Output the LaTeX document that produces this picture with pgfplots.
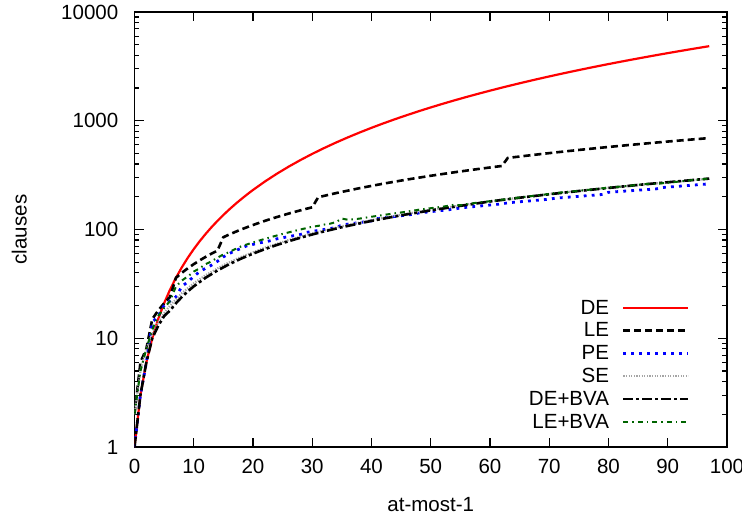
\documentclass[border=0pt]{standalone}
\usepackage{fontspec}
\setmainfont{Liberation Sans}
\usepackage{pgfplots}
\pgfplotsset{compat=1.18}

\definecolor{deRed}{RGB}{255,0,0}
\definecolor{peBlue}{RGB}{0,0,255}
\definecolor{seGray}{RGB}{165,165,165}
\definecolor{lbGreen}{RGB}{0,100,0}

\newcommand{\fnt}{\fontsize{20.6}{25}\selectfont}

\begin{document}
\begin{tikzpicture}
\begin{axis}[
  scale only axis, width=592.5bp, height=435bp,
  ymode=log, xmin=0, xmax=100, ymin=1, ymax=10000,
  xtick={0,10,...,100},
  xticklabels={0,10,20,30,40,50,60,70,80,90,100},
  ytick={1,10,100,1000,10000},
  yticklabels={1,10,100,1000,10000},
  minor ytick={2,3,4,5,6,7,8,9,20,30,40,50,60,70,80,90,200,300,400,500,600,700,800,900,2000,3000,4000,5000,6000,7000,8000,9000},
  tick align=inside, tick pos=both,
  major tick length=9.5bp, minor tick length=5bp,
  every tick/.style={black, line width=1.2bp},
  axis line style={line width=1.6bp},
  tick label style={font=\fnt},
  /pgf/number format/assume math mode=true,
  xticklabel style={inner sep=0pt, anchor=north, yshift=-12bp},
  yticklabel style={inner sep=0pt, anchor=east, xshift=-16bp},
  label style={font=\fnt},
  xlabel={at-most-1},
  ylabel={clauses},
  xlabel style={at={(axis description cs:0.5,0)}, anchor=north, inner sep=0pt, yshift=-50bp},
  ylabel style={at={(axis description cs:-0.182,0.5)}, anchor=base, inner sep=0pt},
  legend plot pos=right,
  legend cell align=right,
  legend image code/.code={\draw[#1] (0bp,0bp) -- (65bp,0bp);},
  legend style={draw=none, fill=none, font=\fnt,
    at={(axis description cs:0.9376,0.031)}, anchor=south east,
    inner sep=0pt, row sep=0pt, column sep=13bp,
    nodes={inner sep=0pt, text height=17.6bp, text depth=5.2bp}},
]
\coordinate (ll) at (rel axis cs:0,0);

% DE
\addplot[deRed, line width=2.2bp] coordinates {
(0,1) (1,3) (2,6) (3,10) (4,15) (5,21) (6,28) (7,36) (8,45) (9,55) (10,66)
(11,78) (12,91) (13,105) (14,120) (15,136) (16,153) (17,171) (18,190) (19,210)
(20,231) (22,276) (24,325) (26,378) (28,435) (30,496) (32,561) (34,630)
(36,703) (38,780) (40,861) (42,946) (44,1035) (46,1128) (48,1225) (50,1326)
(52,1431) (54,1540) (56,1653) (58,1770) (60,1891) (62,2016) (64,2145)
(66,2278) (68,2415) (70,2556) (72,2701) (74,2850) (76,3003) (78,3160)
(80,3321) (82,3486) (84,3655) (86,3828) (88,4005) (90,4186) (92,4371)
(94,4560) (96,4753) (97,4851)
};
\addlegendentry{DE}

% LE
\addplot[black, line width=2.6bp, dash pattern=on 7bp off 4bp] coordinates {
(0,2) (1,6) (2,8) (3,15) (4,18) (5,21) (6,24) (7,36) (8,40) (9,44) (10,48)
(11,52) (12,56) (13,60) (14,64) (15,85) (16,90) (17,95) (18,100) (19,105)
(20,110) (21,115) (22,120) (23,125) (24,130) (25,135) (26,140) (27,145)
(28,150) (29,155) (30,160) (31,198) (34,216) (38,240) (42,264) (46,288)
(50,312) (54,336) (58,360) (62,384) (63,455) (67,483) (71,511) (75,539)
(79,567) (83,595) (87,623) (91,651) (95,679) (97,693)
};
\addlegendentry{LE}

% PE
\addplot[peBlue, line width=2.8bp, dash pattern=on 2.8bp off 5.2bp] coordinates {
(0,1) (1,3) (2,6) (3,14) (4,16) (5,20) (6,22) (7,24) (8,30) (9,33) (10,37)
(11,41) (12,44) (13,47) (14,51) (15,56) (16,60) (17,64) (18,67) (19,71)
(20,73) (21,75) (22,77) (23,79) (24,82) (25,84) (26,86) (27,88) (28,90)
(29,94) (30,96) (31,98) (32,100) (33,102) (34,104) (35,110) (40,120)
(41,126) (47,138) (48,142) (54,154) (55,158) (62,172) (63,176) (70,190)
(71,194) (79,210) (80,220) (88,236) (89,243) (97,263)
};
\addlegendentry{PE}

% SE
\addplot[seGray, line width=2.2bp, dash pattern=on 1.2bp off 1.4bp] coordinates {
(0,2) (1,5) (2,8) (3,11) (4,14) (5,17) (6,20) (8,26) (10,32) (12,38)
(15,47) (18,56) (22,68) (26,80) (30,92) (35,107) (40,122) (45,137)
(50,152) (60,182) (70,212) (80,242) (90,272) (97,293)
};
\addlegendentry{SE}

% DE+BVA
\addplot[black, line width=2.6bp, dash pattern=on 10bp off 3bp on 3bp off 3bp] coordinates {
(0,1) (1,3) (2,6) (3,10) (4,13) (5,16) (6,18) (7,21) (8,24) (9,27) (10,30)
(12,36) (14,42) (16,48) (18,54) (20,60) (22,66) (24,72) (26,78) (28,84)
(30,90) (32,96) (35,105) (40,120) (45,135) (50,150) (55,165) (60,181)
(65,196) (70,211) (75,226) (80,241) (85,257) (90,272) (97,294)
};
\addlegendentry{DE+BVA}

% LE+BVA
\addplot[lbGreen, line width=2bp, dash pattern=on 5bp off 4bp on 1.5bp off 4bp] coordinates {
(0,2) (1,5) (2,8) (3,12) (4,16) (5,19) (6,22) (7,30) (8,34) (9,37) (10,41)
(11,44) (12,48) (13,51) (14,55) (15,59) (16,62) (17,66) (18,70) (19,73)
(20,76) (21,79) (22,82) (23,85) (24,88) (25,91) (26,94) (27,97) (28,100)
(29,103) (30,106) (31,108) (32,111) (33,113) (34,117) (35,126) (36,123)
(37,124) (38,126) (40,131) (42,136) (44,141) (46,146) (48,152) (50,157)
(52,162) (54,169) (55,167) (56,171) (58,177) (60,182) (62,188) (64,194)
(66,200) (68,206) (70,212) (72,219) (74,224) (76,230) (78,236) (80,243)
(82,248) (84,254) (86,261) (87,264) (88,262) (90,270) (92,276) (94,284)
(96,290) (97,295)
};
\addlegendentry{LE+BVA}

\end{axis}
\pgfresetboundingbox
\path (ll) ++(-134.5bp,-72bp) rectangle ++(742bp,519bp);
\end{tikzpicture}
\end{document}
